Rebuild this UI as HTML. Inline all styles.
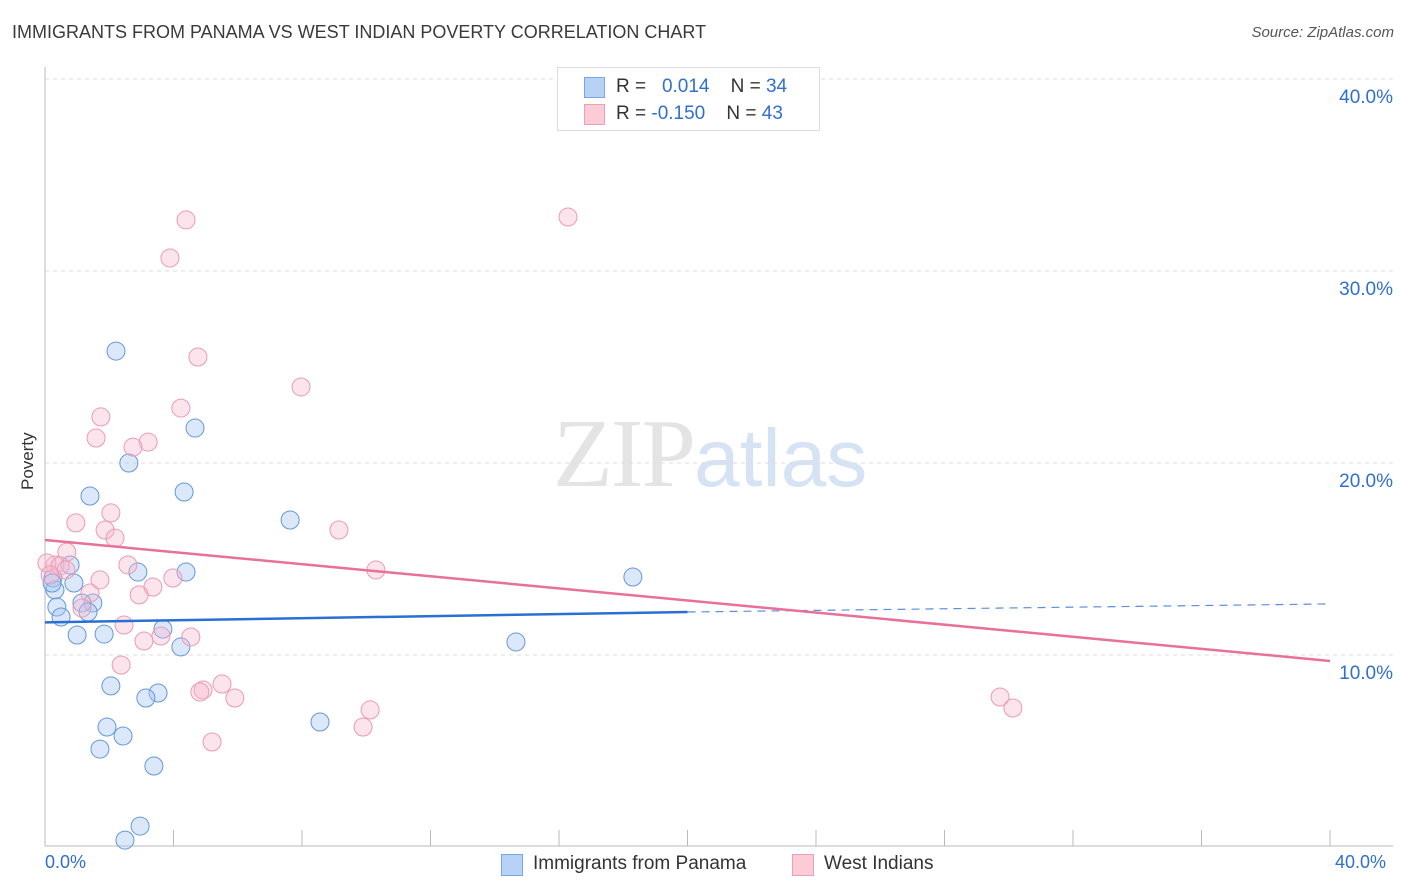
<!DOCTYPE html>
<html><head><meta charset="utf-8"><style>
body{margin:0;background:#fff;font-family:"Liberation Sans",sans-serif;}
#wrap{position:relative;width:1406px;height:892px;overflow:hidden;}
.t{position:absolute;white-space:nowrap;}
</style></head><body>
<div id="wrap">
<div class="t" style="left:12px;top:22px;font-size:18px;color:#3a3a3a;">IMMIGRANTS FROM PANAMA VS WEST INDIAN POVERTY CORRELATION CHART</div>
<div class="t" style="right:12px;top:24px;font-size:15px;color:#555;font-style:italic;">Source: ZipAtlas.com</div>
<div class="t" style="left:18px;font-size:17px;color:#333;transform:rotate(-90deg);transform-origin:left top;top:490px;">Poverty</div>
<div class="t" style="left:553px;top:398px;font-size:98px;font-family:'Liberation Serif',serif;color:#e4e4e4;letter-spacing:-2px;">ZIP<span style="font-family:'Liberation Sans',sans-serif;color:#d6e3f5;font-size:82px;letter-spacing:0">atlas</span></div>
<svg id="plot" width="1406" height="892" style="position:absolute;left:0;top:0"></svg>
<div style="position:absolute;left:557px;top:67px;width:261px;height:62px;border:1px solid #ddd;background:#fff;">
 <div style="position:absolute;left:26px;top:9px;width:19px;height:19px;background:#b8d2f5;border:1px solid #7aa6e3;"></div>
 <div class="t" style="left:58px;top:8px;font-size:19px;color:#333;">R = &nbsp;&nbsp;<span style="color:#2f6fd0">0.014</span>&nbsp;&nbsp;&nbsp; N = <span style="color:#2f6fd0">34</span></div>
 <div style="position:absolute;left:26px;top:36px;width:19px;height:19px;background:#fbcbd8;border:1px solid #eaa0b6;"></div>
 <div class="t" style="left:58px;top:35px;font-size:19px;color:#333;">R = <span style="color:#2f6fd0">-0.150</span>&nbsp;&nbsp;&nbsp; N = <span style="color:#2f6fd0">43</span></div>
</div>
<div class="t" style="left:45px;top:852px;font-size:18px;color:#2f6fd0;">0.0%</div>
<div class="t" style="left:1335px;top:852px;font-size:18px;color:#2f6fd0;">40.0%</div>
<div style="position:absolute;left:501px;top:854px;width:20px;height:20px;background:#b8d2f5;border:1px solid #7aa6e3;"></div>
<div class="t" style="left:533px;top:853px;font-size:19px;color:#333;">Immigrants from Panama</div>
<div style="position:absolute;left:792px;top:854px;width:20px;height:20px;background:#fbcbd8;border:1px solid #eaa0b6;"></div>
<div class="t" style="left:824px;top:853px;font-size:19px;color:#333;">West Indians</div>
</div>
<script>
const yTicks=[10,20,30,40];
const yTickLabels=["10.0%","20.0%","30.0%","40.0%"];
const panamaX=[2.21,4.67,2.61,1.40,4.33,7.63,0.78,2.89,4.39,18.30,0.25,0.90,0.31,1.49,1.15,0.37,1.34,0.50,3.67,1.00,1.84,4.23,14.66,2.05,3.52,3.14,1.93,2.43,8.56,1.71,3.39,2.96,2.49,0.22];
const panamaY=[25.83,21.82,20.0,18.28,18.49,17.03,14.69,14.32,14.32,14.06,14.01,13.75,13.39,12.71,12.71,12.5,12.24,11.98,11.35,11.04,11.09,10.42,10.68,8.39,8.02,7.76,6.25,5.78,6.51,5.10,4.22,1.09,0.36,13.75];
const westX=[4.39,16.28,3.89,4.76,7.97,4.23,1.74,1.59,3.21,2.74,9.15,0.96,2.05,1.87,2.18,0.68,0.31,0.06,0.47,0.65,2.58,10.30,3.98,3.36,1.40,2.93,1.15,2.46,4.54,3.61,3.08,2.37,5.51,4.92,4.82,5.91,29.73,30.13,10.12,9.90,5.20,1.71,0.16];
const westY=[32.66,32.81,30.68,25.52,23.96,22.86,22.40,21.30,21.09,20.83,16.51,16.88,17.40,16.51,16.09,15.36,14.69,14.79,14.64,14.43,14.69,14.43,14.01,13.54,13.23,13.13,12.45,11.56,10.94,10.99,10.73,9.48,8.49,8.18,8.07,7.76,7.81,7.24,7.14,6.25,5.47,13.91,14.17];
const panamaTrend=[11.7,12.24,12.66];
const westTrend=[15.99,9.69];
const sx=v=>45+v*32.125, sy=v=>847-v*19.2;
const svg=document.getElementById('plot'),NS='http://www.w3.org/2000/svg';
function mk(t,a){const e=document.createElementNS(NS,t);for(const k in a)e.setAttribute(k,a[k]);svg.appendChild(e);return e;}
yTicks.forEach((v,i)=>{const g=mk('line',{x1:45,x2:1393,y1:sy(v),y2:sy(v),stroke:'#ddd','stroke-dasharray':'4,4'});


const t=mk('text',{x:1393,y:sy(v)+24,'text-anchor':'end','font-size':19,fill:'#2f6fd0','font-family':'Liberation Sans,sans-serif'});t.textContent=yTickLabels[i];

});
let a=mk('line',{x1:45,x2:45,y1:67,y2:846,stroke:'#bbb'});


a=mk('line',{x1:45,x2:1393,y1:846,y2:846,stroke:'#bbb'});


for(let k=1;k<=10;k++){const t=mk('line',{x1:45+k*128.5,x2:45+k*128.5,y1:830,y2:846,stroke:'#bbb'});

}
panamaX.forEach((x,i)=>{const c=mk('circle',{cx:sx(x),cy:sy(panamaY[i]),r:9,fill:'rgba(165,198,240,0.4)',stroke:'#6497dc','stroke-width':1});

});
westX.forEach((x,i)=>{const c=mk('circle',{cx:sx(x),cy:sy(westY[i]),r:9,fill:'rgba(247,185,204,0.38)',stroke:'#ec9ab3','stroke-width':1});

});
let l=mk('line',{x1:sx(0),y1:sy(panamaTrend[0]),x2:sx(20),y2:sy(panamaTrend[1]),stroke:'#2a6fd4','stroke-width':2.5});


l=mk('line',{x1:sx(20),y1:sy(panamaTrend[1]),x2:sx(40),y2:sy(panamaTrend[2]),stroke:'#5b8fd9','stroke-width':1.2,'stroke-dasharray':'8,6'});


l=mk('line',{x1:sx(0),y1:sy(westTrend[0]),x2:sx(40),y2:sy(westTrend[1]),stroke:'#e8709a','stroke-width':2.5});


</script>
</body></html>
